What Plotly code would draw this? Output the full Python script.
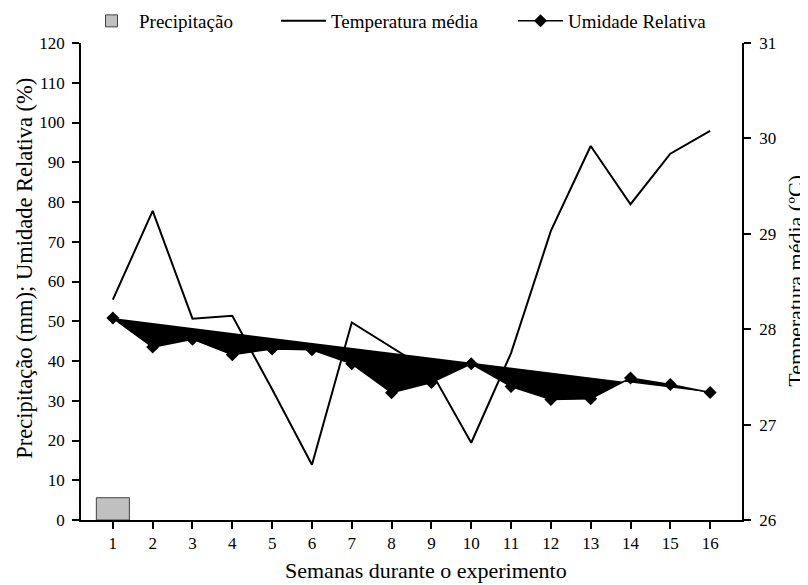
import plotly.graph_objects as go

semanas = list(range(1, 17))
precipitacao = [5.6, 0, 0, 0, 0, 0, 0, 0, 0, 0, 0, 0, 0, 0, 0, 0]
temperatura = [28.31, 29.24, 28.11, 28.14, 27.37, 26.58, 28.07, 27.81, 27.55,
               26.81, 27.75, 29.03, 29.92, 29.31, 29.84, 30.08]
umidade = [50.8, 43.5, 45.5, 41.6, 43.0, 42.8, 39.3, 32.0, 34.6,
           39.3, 33.6, 30.3, 30.5, 35.7, 34.1, 32.1]
y1_ticks = list(range(0, 121, 10))
y2_ticks = [26, 27, 28, 29, 30, 31]

FONT = "Liberation Serif"

fig = go.Figure()
fig.add_trace(go.Bar(
    x=semanas, y=precipitacao, name="Precipitação", width=0.83,
    marker=dict(color="#c0c0c0",
                line=dict(color="#404040", width=[1 if v > 0 else 0 for v in precipitacao])),
    showlegend=True, legend="legend"))
fig.add_trace(go.Scatter(
    x=semanas, y=temperatura, name="Temperatura média", mode="lines",
    line=dict(color="black", width=2), yaxis="y2", showlegend=True, legend="legend2"))
# closed (self-filled) humidity polygon
fig.add_trace(go.Scatter(
    x=semanas, y=umidade, mode="lines", line=dict(width=0, color="black"),
    fill="toself", fillcolor="black", showlegend=False, hoverinfo="skip"))
fig.add_trace(go.Scatter(
    x=semanas, y=umidade, name="Umidade Relativa", mode="lines+markers",
    line=dict(color="black", width=1.5),
    marker=dict(symbol="diamond", size=10, color="black"),
    showlegend=True, legend="legend3"))

axis_common = dict(showgrid=False, zeroline=False, showline=True, linecolor="black",
                   linewidth=1.5, ticks="outside", tickcolor="black", tickwidth=1.5,
                   ticklen=7, tickfont=dict(family=FONT, size=17, color="black"))

# page has an 8px body margin: figure drawn at 800x577 starting at (8, 8)
OFF = 8
FW, FH = 800, 577
L, R, T, B = 73, 66, 35, 64.5
W, H = FW - L - R, FH - T - B


def px_x(px):
    return (px - OFF - L) / W


def px_y(py):
    return (FH - B - (py - OFF)) / H


leg_common = dict(orientation="h", bgcolor="rgba(0,0,0,0)", itemwidth=45,
                  font=dict(family=FONT, size=19, color="black"),
                  xanchor="left", yanchor="middle", yref="container",
                  y=1 - (21 - OFF) / FH)

fig.update_layout(
    width=FW, height=FH,
    margin=dict(l=L, r=R, t=T, b=B, autoexpand=False),
    plot_bgcolor="white", paper_bgcolor="white",
    font=dict(family=FONT, color="black"),
    showlegend=True,
    xaxis=dict(range=[0.2, 16.8], tickvals=semanas, ticktext=[str(s) for s in semanas],
               **axis_common),
    yaxis=dict(range=[0, 120], tickvals=y1_ticks, ticklabelstandoff=4, **axis_common),
    yaxis2=dict(range=[26, 31], tickvals=y2_ticks, overlaying="y", side="right",
                ticklabelstandoff=5, **axis_common),
    legend=dict(x=px_x(84), **leg_common),
    legend2=dict(x=px_x(276), **leg_common),
    legend3=dict(x=px_x(513), **leg_common),
    annotations=[
        dict(text="Semanas durante o experimento", xref="paper", yref="paper",
             x=px_x(426), y=px_y(571), xanchor="center", yanchor="middle",
             showarrow=False, font=dict(family=FONT, size=22, color="black")),
        dict(text="Precipitação (mm); Umidade Relativa (%)", xref="paper", yref="paper",
             x=px_x(25), y=px_y(269), xanchor="center", yanchor="middle", textangle=-90,
             showarrow=False, font=dict(family=FONT, size=22.5, color="black")),
        dict(text="Temperatura média (ºC)", xref="paper", yref="paper",
             x=px_x(796), y=px_y(281), xanchor="center", yanchor="middle", textangle=-90,
             showarrow=False, font=dict(family=FONT, size=22, color="black")),
    ],
)

fig.write_html("out.html")
